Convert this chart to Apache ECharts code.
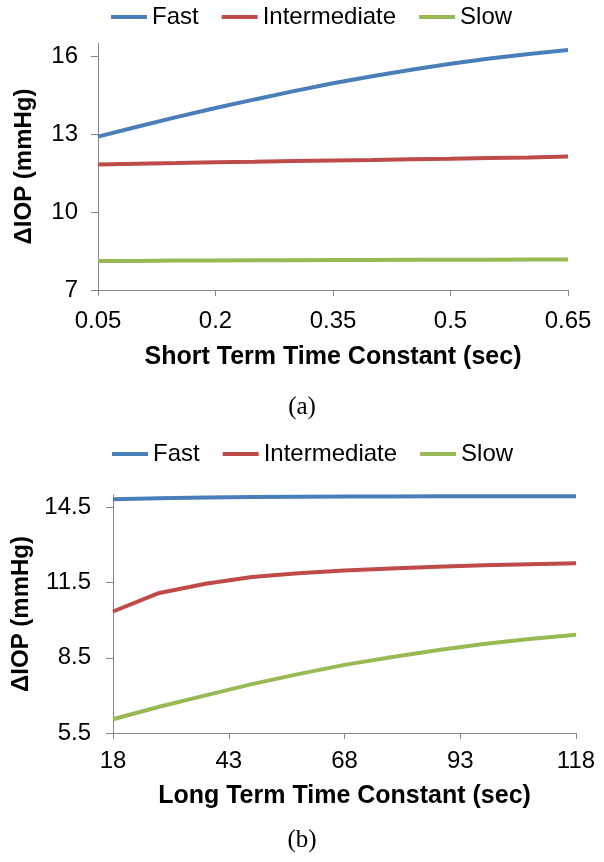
<!DOCTYPE html>
<html>
<head>
<meta charset="utf-8">
<script src="https://cdn.jsdelivr.net/npm/echarts@6/dist/echarts.min.js"></script>
<style>html,body{margin:0;padding:0;background:#fff}#c{width:604px;height:862px}</style>
</head>
<body>
<div id="c"></div>
<script>
// ---- data ----
var seriesNames = ['Fast', 'Intermediate', 'Slow'];
var shortTC = [0.05, 0.10, 0.15, 0.20, 0.25, 0.30, 0.35, 0.40, 0.45, 0.50, 0.55, 0.60, 0.65];
var fastA   = [12.90, 13.28, 13.65, 14.00, 14.33, 14.65, 14.95, 15.22, 15.47, 15.70, 15.90, 16.08, 16.23];
var interA  = [11.83, 11.86, 11.88, 11.91, 11.93, 11.96, 11.98, 12.00, 12.03, 12.05, 12.08, 12.10, 12.13];
var slowA   = [8.12, 8.12, 8.13, 8.13, 8.14, 8.14, 8.15, 8.15, 8.16, 8.16, 8.16, 8.17, 8.17];
var longTC  = [18, 28, 38, 48, 58, 68, 78, 88, 98, 108, 118];
var fastB   = [14.83, 14.87, 14.90, 14.92, 14.93, 14.94, 14.94, 14.95, 14.95, 14.95, 14.95];
var interB  = [10.35, 11.09, 11.46, 11.73, 11.88, 11.99, 12.07, 12.14, 12.20, 12.24, 12.28];
var slowB   = [6.05, 6.55, 7.00, 7.45, 7.85, 8.22, 8.52, 8.80, 9.05, 9.25, 9.42];
var xTicksA = [0.05, 0.2, 0.35, 0.5, 0.65];
var yTicksA = [7, 10, 13, 16];
var xTicksB = [18, 43, 68, 93, 118];
var yTicksB = [5.5, 8.5, 11.5, 14.5];
var colors = ['#4A7EBB', '#BE4B48', '#98B954'];

function pairs(xs, ys) { return xs.map(function (x, i) { return [x, ys[i]]; }); }

var FONT = 'Liberation Sans';
function xAxis(idx, min, max, ticks, name, gap, margin) {
  return {
    type: 'value', gridIndex: idx, min: min, max: max,
    axisLine: { show: true, lineStyle: { color: '#868686', width: 1 } },
    axisTick: { show: true, inside: false, length: 6, customValues: ticks, lineStyle: { color: '#868686' } },
    axisLabel: { customValues: ticks, color: '#000', fontFamily: FONT, fontSize: 24, margin: margin,
      formatter: function (v) { return String(+v.toFixed(2)); } },
    splitLine: { show: false },
    name: name, nameLocation: 'middle', nameGap: gap,
    nameTextStyle: { color: '#000', fontFamily: FONT, fontSize: 25, fontWeight: 'bold' }
  };
}
function yAxis(idx, min, max, ticks, gap, margin) {
  return {
    type: 'value', gridIndex: idx, min: min, max: max,
    axisLine: { show: true, lineStyle: { color: '#868686', width: 1 } },
    axisTick: { show: true, inside: false, length: 7, customValues: ticks, lineStyle: { color: '#868686' } },
    axisLabel: { customValues: ticks, color: '#000', fontFamily: FONT, fontSize: 24, margin: margin,
      formatter: function (v) { return String(+v.toFixed(2)); } },
    splitLine: { show: false },
    name: 'ΔIOP (mmHg)', nameLocation: 'middle', nameGap: gap,
    nameTextStyle: { color: '#000', fontFamily: FONT, fontSize: 24, fontWeight: 'bold' }
  };
}
function line(name, data, ci, ai) {
  return { type: 'line', name: name, xAxisIndex: ai, yAxisIndex: ai, data: data,
    symbol: 'none', smooth: false, color: colors[ci],
    lineStyle: { width: 4, color: colors[ci] }, animation: false };
}
var legendCommon = {
  icon: 'rect', itemWidth: 36, itemHeight: 4, itemGap: 23, padding: 0,
  textStyle: { color: '#000', fontFamily: FONT, fontSize: 24, lineHeight: 28 },
  data: seriesNames
};

var chart = echarts.init(document.getElementById('c'), null, { renderer: 'canvas' });
chart.setOption({
  backgroundColor: '#fff',
  animation: false,
  title: [
    { text: '(a)', left: 'center', top: 390, textStyle: { fontFamily: 'Liberation Serif', fontSize: 25, fontWeight: 'normal', color: '#000' } },
    { text: '(b)', left: 'center', top: 823, textStyle: { fontFamily: 'Liberation Serif', fontSize: 25, fontWeight: 'normal', color: '#000' } }
  ],
  legend: [
    Object.assign({}, legendCommon, { left: 111, top: 3 }),
    Object.assign({}, legendCommon, { left: 112, top: 440 })
  ],
  grid: [
    { left: 98, right: 36, top: 43, height: 247 },
    { left: 113, right: 28, top: 495, height: 238 }
  ],
  xAxis: [
    xAxis(0, 0.05, 0.65, xTicksA, 'Short Term Time Constant (sec)', 55, 19),
    xAxis(1, 18, 118, xTicksB, 'Long Term Time Constant (sec)', 51, 16)
  ],
  yAxis: [
    yAxis(0, 7, 16.5, yTicksA, 62, 20),
    yAxis(1, 5.5, 15, yTicksB, 77, 22)
  ],
  series: [
    line('Fast', pairs(shortTC, fastA), 0, 0),
    line('Intermediate', pairs(shortTC, interA), 1, 0),
    line('Slow', pairs(shortTC, slowA), 2, 0),
    line('Fast', pairs(longTC, fastB), 0, 1),
    line('Intermediate', pairs(longTC, interB), 1, 1),
    line('Slow', pairs(longTC, slowB), 2, 1)
  ]
});
</script>
</body>
</html>
